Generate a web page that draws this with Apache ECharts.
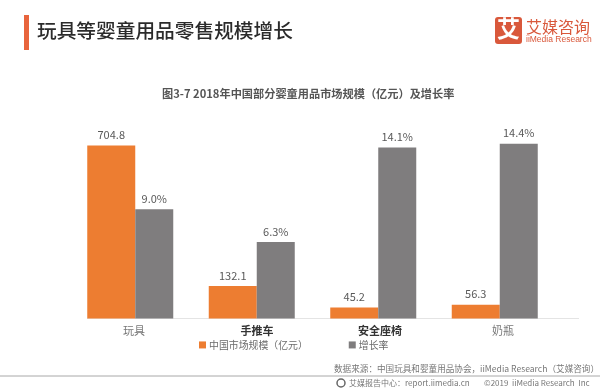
<!DOCTYPE html>
<html>
<head>
<meta charset="utf-8">
<style>
html,body{margin:0;padding:0;background:#fff;}
#main{width:600px;height:390px;}
</style>
<script src="https://cdn.jsdelivr.net/npm/echarts@6/dist/echarts.min.js"></script>
</head>
<body>
<div id="main"></div>
<script>
const cats = ['玩具','手推车','安全座椅','奶瓶'];
const scale = [704.8,132.1,45.2,56.3];
const rate = [9.0,6.3,14.1,14.4];
const boldCats = ['手推车','安全座椅'];
const FONT = '"Noto Sans CJK SC"';

let chart = echarts.init(document.getElementById('main'));
chart.setOption({
  animation:false,
  backgroundColor:'#fff',
  textStyle:{fontFamily:FONT},
  legend:{
    left:194,
    top:335,
    icon:'rect',
    itemWidth:7,
    itemHeight:7,
    itemGap:41,
    data:['中国市场规模（亿元）','增长率'],
    textStyle:{fontSize:9.9,color:'#6b6b6b',fontFamily:FONT,padding:[0,0,0,-2]}
  },
  // bars sit in the first grid, the labels in the reference are spaced a bit wider
  grid:[
    {left:69.5,width:486,top:120,height:198.5},
    {left:72.5,width:492,top:120,height:198.5}
  ],
  xAxis:[
    {type:'category',gridIndex:0,data:cats,axisLine:{show:false},axisTick:{show:false},axisLabel:{show:false}},
    {type:'category',gridIndex:1,data:cats,
     axisLine:{show:false},axisTick:{show:false},
     axisLabel:{
       margin:7,
       formatter:(v)=>boldCats.includes(v) ? `{b|${v}}` : `{n|${v}}`,
       rich:{
         b:{fontSize:11,fontWeight:'bold',color:'#333',fontFamily:FONT},
         n:{fontSize:11,color:'#777',fontFamily:FONT}
       }
     }}
  ],
  yAxis:[
    {type:'value',gridIndex:0,min:0,max:808.7,show:false},
    {type:'value',gridIndex:0,min:0,max:16.36,show:false},
    {type:'value',gridIndex:1,min:0,max:1,show:false}
  ],
  series:[
    {name:'中国市场规模（亿元）',type:'bar',xAxisIndex:0,yAxisIndex:0,data:scale,
     barWidth:48,barGap:0,
     itemStyle:{color:'#ed7d31'},
     label:{show:true,position:'top',distance:5,fontSize:11,color:'#595959',fontFamily:FONT,
       formatter:(p)=>p.value.toFixed(1)}},
    {name:'增长率',type:'bar',xAxisIndex:0,yAxisIndex:1,data:rate,
     barWidth:38,barGap:0,
     itemStyle:{color:'#7f7d7e'},
     label:{show:true,position:'top',distance:5,fontSize:11,color:'#595959',fontFamily:FONT,
       formatter:(p)=>p.value.toFixed(1)+'%'}}
  ],
  graphic:[
    // page header
    {type:'rect',left:24,top:15,shape:{width:5,height:35},style:{fill:'#e8643c'}},
    {type:'text',left:37,top:21,style:{text:'玩具等婴童用品零售规模增长',fontSize:19.7,fontWeight:500,fill:'#2b2b2b',fontFamily:FONT}},
    // logo
    {type:'rect',left:495,top:17,shape:{width:27,height:27,r:3},style:{fill:'#d9583b'}},
    {type:'text',left:497,top:17,style:{text:'艾',fontSize:23,fontWeight:'bold',fill:'#fff',fontFamily:FONT}},
    {type:'text',left:526,top:19,style:{text:'艾媒咨询',fontSize:16,fill:'#d9583b',fontFamily:FONT}},
    {type:'text',left:526,top:35,style:{text:'iiMedia Research',fontSize:8.5,fill:'#d9583b',fontFamily:'"Liberation Sans"'}},
    // chart title
    {type:'text',left:162,top:88,style:{text:'图3-7 2018年中国部分婴童用品市场规模（亿元）及增长率',fontSize:11.2,fontWeight:'bold',fill:'#555',fontFamily:FONT}},
    // baseline
    {type:'line',shape:{x1:87,y1:318.5,x2:579,y2:318.5},style:{stroke:'#e4e4e4',lineWidth:1}},
    // source and footer
    {type:'text',left:334,top:364,style:{text:'数据来源：中国玩具和婴童用品协会，iiMedia Research（艾媒咨询）',fontSize:8.6,fill:'#777',fontFamily:FONT}},
    {type:'line',shape:{x1:0,y1:376,x2:600,y2:376},style:{stroke:'#a8a8a8',lineWidth:1}},
    {type:'circle',shape:{cx:341,cy:383,r:4},style:{fill:'none',stroke:'#666',lineWidth:1.5}},
    {type:'text',left:349,top:379,style:{text:'艾媒报告中心：report.iimedia.cn',fontSize:8,fill:'#777',fontFamily:FONT}},
    {type:'text',left:484,top:379,style:{text:'©2019  iiMedia Research  Inc',fontSize:8,fill:'#777',fontFamily:FONT}}
  ]
});
</script>
</body>
</html>
